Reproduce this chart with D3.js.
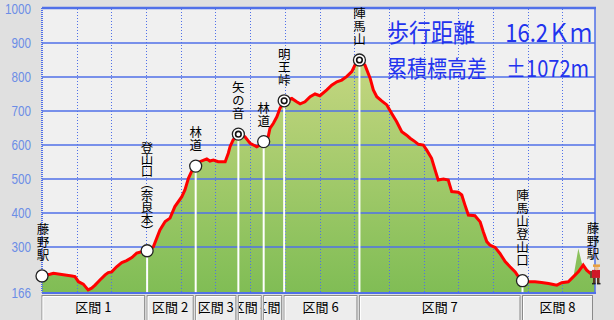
<!DOCTYPE html>
<html><head><meta charset="utf-8">
<script src="https://cdn.jsdelivr.net/npm/d3@7"></script>
<style>
html,body{margin:0;padding:0;background:#e0e0e0;}
svg{display:block;}
.vt{writing-mode:vertical-rl;text-orientation:upright;}
</style></head><body>
<svg id="c" width="614" height="320"></svg>
<script>
// ---------- data ----------
const yTicks = [1000, 900, 800, 700, 600, 500, 400, 300, 166];
const gridElev = [300, 400, 500, 600, 700, 800, 900];
const gridKm = [1, 2, 3, 4, 5, 6, 7, 8, 9, 10, 11, 12, 13, 14, 15];

const profileKm = [0, 0.23, 0.33, 0.86, 0.95, 1.05, 1.19, 1.33, 1.43, 1.53, 1.67, 1.82, 1.91, 2.01, 2.15, 2.30, 2.44, 2.59, 2.73, 2.87, 3.03,
  3.21, 3.40, 3.55, 3.69, 3.83, 4.03, 4.12, 4.22, 4.31, 4.43,
  4.55, 4.75, 4.84, 4.94, 5.08, 5.28, 5.37, 5.42, 5.51, 5.66,
  5.85, 6.00, 6.19, 6.28, 6.39,
  6.52, 6.57, 6.67, 6.77, 6.86, 6.98,
  7.20, 7.34, 7.44, 7.58, 7.73, 7.87, 8.01, 8.21, 8.35, 8.50, 8.64, 8.78, 8.93, 9.02, 9.15,
  9.31, 9.46, 9.55, 9.65, 9.79, 9.94, 10.08, 10.22, 10.37, 10.51, 10.61, 10.75, 10.85, 10.99, 11.09, 11.23, 11.33, 11.42, 11.57, 11.71, 11.81,
  12.00, 12.10, 12.19, 12.29, 12.48, 12.63, 12.72, 12.82, 12.91, 13.06, 13.20, 13.35, 13.49, 13.64, 13.73, 13.85,
  14.02, 14.21, 14.40, 14.60, 14.74, 14.84, 14.98, 15.17, 15.32, 15.46, 15.60, 15.70, 15.80, 15.94];
const profileElev = [215, 220, 223, 215, 213, 198, 191, 174, 179, 188, 203, 218, 225, 227, 242, 254, 260, 269, 282, 286, 289,
  301, 350, 375, 385, 419, 448, 468, 502, 522, 538,
  551, 559, 553, 556, 551, 551, 576, 595, 615, 632,
  624, 605, 595, 600, 610,
  624, 649, 664, 683, 708, 730,
  737, 727, 721, 727, 742, 750, 745, 762, 776, 786, 791, 801, 816, 835, 850,
  835, 796, 762, 742, 730, 718, 693, 669, 639, 629, 620, 610, 602, 600, 585, 561, 527, 497, 500, 497, 463,
  461, 453, 424, 394, 392, 374, 345, 316, 306, 299, 281, 257, 242, 227, 213, 201,
  198, 198, 196, 193, 190, 188, 195, 198, 213, 227, 247, 232, 223, 226];

// small spike seen only in the filled area
const spikeKm = [15.32, 15.46, 15.56];
const spikeElev = [213, 296, 253];

const waypointNames = ["藤野駅", "登山口︵奈良本︶", "林道", "矢の音", "林道", "明王峠", "陣馬山", "陣馬山登山口", "藤野駅"];
const waypointKm = [0, 3.03, 4.43, 5.66, 6.39, 6.98, 9.15, 13.85, 15.94];
const waypointElev = [215, 289, 538, 632, 610, 730, 850, 201, 218];
const waypointType = ["o", "o", "o", "oo", "o", "oo", "oo", "o", "hiker"];

const intervalLabels = ["区間 1", "区間 2", "区間 3", "区間 4", "区間 5", "区間 6", "区間 7", "区間 8"];

const summaryLabels = ["歩行距離", "累積標高差"];
const summaryValues = ["16.2Ｋｍ", "±1072m"];

// ---------- chart ----------
const svg = d3.select("#c");
const L = 42, R = 595, T = 9, B = 292.6;
const x = d3.scaleLinear().domain([0, 15.94]).range([L, R]);
const y = d3.scaleLinear().domain([166, 1000]).range([B, T]);
const blue = "#5070e8";

svg.append("rect").attr("width", 614).attr("height", 320).attr("fill", "#e0e0e0");
svg.append("rect").attr("x", L).attr("y", 8).attr("width", R - L).attr("height", B - 8).attr("fill", "#f0f0f0");

const defs = svg.append("defs");
const grad = defs.append("linearGradient").attr("id", "fillg")
  .attr("gradientUnits", "userSpaceOnUse").attr("x1", 0).attr("y1", T).attr("x2", 0).attr("y2", B);
grad.append("stop").attr("offset", 0).attr("stop-color", "#d4dc8a");
grad.append("stop").attr("offset", 1).attr("stop-color", "#80bd55");

const profile = profileKm.map((k, i) => ({km: k, elev: profileElev[i]}));
const spike = spikeKm.map((k, i) => ({km: k, elev: spikeElev[i]}));
const fillData = profile.filter(p => p.km < spikeKm[0] || p.km > spikeKm[spikeKm.length - 1])
  .concat(spike).sort((a, b) => a.km - b.km);

const area = d3.area().x(d => x(d.km)).y0(B).y1(d => y(d.elev));
svg.append("path").datum(fillData).attr("d", area).attr("fill", "url(#fillg)");

// grid
svg.append("g").selectAll("line").data(gridElev).join("line")
  .attr("x1", L).attr("x2", R).attr("y1", d => y(d)).attr("y2", d => y(d))
  .attr("stroke", blue).attr("stroke-width", 1.5);
svg.append("g").selectAll("line").data(gridKm).join("line")
  .attr("x1", d => Math.round(x(d)) + 0.5).attr("x2", d => Math.round(x(d)) + 0.5)
  .attr("y1", T).attr("y2", B)
  .attr("stroke", blue).attr("stroke-width", 1).attr("stroke-dasharray", "1,2");

// borders
svg.append("line").attr("x1", L).attr("x2", R + 1).attr("y1", 8).attr("y2", 8).attr("stroke", blue).attr("stroke-width", 2.5);
svg.append("line").attr("x1", L).attr("x2", R + 1).attr("y1", B + 0.5).attr("y2", B + 0.5).attr("stroke", blue).attr("stroke-width", 2);
svg.append("line").attr("x1", L).attr("x2", L).attr("y1", 8).attr("y2", B).attr("stroke", blue).attr("stroke-width", 2).attr("stroke-dasharray", "1,1");
svg.append("line").attr("x1", R).attr("x2", R).attr("y1", 8).attr("y2", B + 1).attr("stroke", blue).attr("stroke-width", 1.5);

// y axis labels
const yAxis = d3.axisLeft(y).tickValues(yTicks).tickSize(0).tickPadding(0).tickFormat(d3.format("d"));
const ya = svg.append("g").attr("transform", "translate(31,0)").call(yAxis);
ya.select(".domain").remove();
ya.selectAll("text").attr("fill", "#6b8de6").attr("font-family", "'Liberation Sans', Arial, sans-serif")
  .attr("font-size", 14).attr("textLength", d => String(d).length * 6.5).attr("lengthAdjust", "spacingAndGlyphs");

// waypoints
const wps = waypointNames.map((n, i) => ({name: n, km: waypointKm[i], elev: waypointElev[i], type: waypointType[i]}));

// white vertical lines
svg.append("g").selectAll("line").data(wps.filter((d, i) => i > 0 && d.type !== "hiker")).join("line")
  .attr("x1", d => x(d.km)).attr("x2", d => x(d.km))
  .attr("y1", d => y(d.elev)).attr("y2", B - 0.5)
  .attr("stroke", "#ffffff").attr("stroke-width", 2);

// red profile line
const line = d3.line().x(d => x(d.km)).y(d => y(d.elev));
svg.append("path").datum(profile).attr("d", line).attr("fill", "none")
  .attr("stroke", "#ff0000").attr("stroke-width", 3).attr("stroke-linejoin", "miter");

// markers
const mk = svg.append("g");
wps.forEach(d => {
  const cx = x(d.km), cy = y(d.elev);
  if (d.type === "o" || d.type === "oo") {
    mk.append("circle").attr("cx", cx).attr("cy", cy).attr("r", 6).attr("fill", "#fff").attr("stroke", "#222").attr("stroke-width", 1.3);
    if (d.type === "oo") {
      mk.append("circle").attr("cx", cx).attr("cy", cy).attr("r", 2.8).attr("fill", "#fff").attr("stroke", "#111").attr("stroke-width", 1.6);
    }
  } else {
    // little hiker icon
    const g = mk.append("g").attr("transform", `translate(${cx},${cy})`);
    g.append("rect").attr("x", -5).attr("y", -4).attr("width", 3).attr("height", 7).attr("fill", "#6a4a2a");
    g.append("rect").attr("x", -3).attr("y", -5).attr("width", 8).attr("height", 8).attr("fill", "#d01828");
    g.append("circle").attr("cx", 1.5).attr("cy", -7).attr("r", 2.3).attr("fill", "#f0c090");
    g.append("rect").attr("x", -2).attr("y", -10.5).attr("width", 7).attr("height", 2.5).attr("fill", "#e8a040");
    g.append("rect").attr("x", -2).attr("y", 3).attr("width", 2.5).attr("height", 6).attr("fill", "#5a3a20");
    g.append("rect").attr("x", 2).attr("y", 3).attr("width", 2.5).attr("height", 6).attr("fill", "#5a3a20");
    g.append("rect").attr("x", -3).attr("y", 8).attr("width", 3.5).attr("height", 1.5).attr("fill", "#222");
    g.append("rect").attr("x", 2).attr("y", 8).attr("width", 3.5).attr("height", 1.5).attr("fill", "#222");
  }
});

// vertical labels (one text element each, vertical writing)
const lab = svg.append("g").attr("font-family", "'Noto Sans CJK JP', sans-serif").attr("font-size", 12.5).attr("fill", "#000");
wps.forEach((d, i) => {
  const cx = i === wps.length - 1 ? x(d.km) - 2 : x(d.km) + (i === 0 ? 1 : 0);
  lab.append("text").attr("class", "vt").attr("x", cx).attr("y", y(d.elev) - 14)
    .attr("text-anchor", "end").attr("letter-spacing", d.name.length > 6 ? -0.6 : 0.4).text(d.name);
});

// interval buttons (labels clipped to their button, as in the reference)
const btn = svg.append("g");
intervalLabels.forEach((t, i) => {
  const x0 = x(waypointKm[i]) - 0.5, x1 = x(waypointKm[i + 1]) - 2;
  const id = "clip" + i;
  defs.append("clipPath").attr("id", id).append("rect").attr("x", x0 + 1).attr("y", 295).attr("width", Math.max(0, x1 - x0 - 2)).attr("height", 26);
  btn.append("rect").attr("x", x0 + 0.5).attr("y", 295.5).attr("width", x1 - x0 - 1).attr("height", 30)
    .attr("fill", "#ededed").attr("stroke", "#8a8a8a").attr("stroke-width", 1);
  btn.append("line").attr("x1", x0 + 1.5).attr("x2", x1 - 1).attr("y1", 296.5).attr("y2", 296.5).attr("stroke", "#fff");
  btn.append("line").attr("x1", x0 + 1.5).attr("x2", x0 + 1.5).attr("y1", 296.5).attr("y2", 320).attr("stroke", "#fff");
  btn.append("g").attr("clip-path", `url(#${id})`).append("text").attr("x", (x0 + x1) / 2).attr("y", 311.5)
    .attr("text-anchor", "middle").attr("font-family", "'Noto Sans CJK JP', sans-serif").attr("font-size", 13)
    .attr("fill", "#000").text(t);
});

// summary text
const sum = svg.append("g").attr("font-family", "'Noto Sans CJK JP', sans-serif").attr("fill", "#2233ee");
const rowY = [31, 67], rowSize = [22, 20], rowScale = [1.15, 1.15];
summaryLabels.forEach((t, i) => {
  sum.append("text").attr("transform", `translate(387,${rowY[i]}) scale(1,${rowScale[i]})`)
    .attr("font-size", rowSize[i]).attr("dominant-baseline", "central").text(t);
  sum.append("text").attr("transform", `translate(${i === 0 ? 592 : 589},${rowY[i]}) scale(1,${rowScale[i]})`)
    .attr("text-anchor", "end").attr("font-size", rowSize[i]).attr("dominant-baseline", "central").text(summaryValues[i]);
});
</script>
</body></html>
